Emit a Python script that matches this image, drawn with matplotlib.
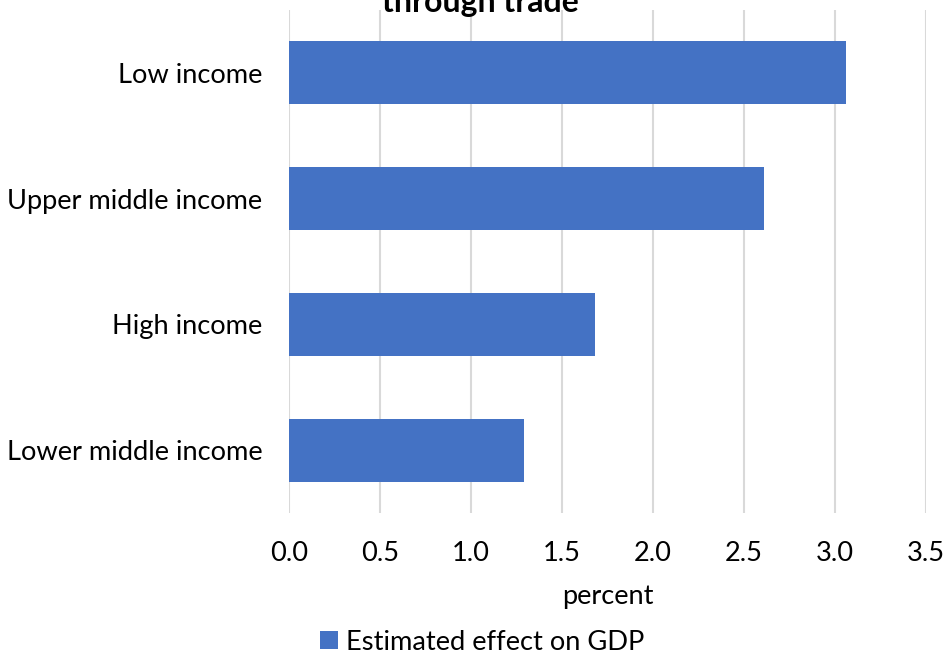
import matplotlib.pyplot as plt
from matplotlib.patches import Patch

plt.rcParams['font.family'] = ['Lato', 'DejaVu Sans']

categories = ['Low income', 'Upper middle income', 'High income', 'Lower middle income']
values = [3.06, 2.61, 1.68, 1.29]
xticks = [0.0, 0.5, 1.0, 1.5, 2.0, 2.5, 3.0, 3.5]
bar_color = '#4472C4'

fig = plt.figure(figsize=(9.45, 6.64), dpi=100)
ax = fig.add_axes([0.3058, 0.2274, 0.674, 0.7576])

y = list(range(len(categories)))[::-1]
ax.barh(y, values, height=0.5, color=bar_color, zorder=3)

ax.set_ylim(-0.5, len(categories) - 0.5)
ax.set_yticks(y)
ax.set_yticklabels(categories, fontsize=19.6)
ax.set_xlim(0, 3.5)
ax.set_xticks(xticks)
ax.set_xticklabels(['%.1f' % t for t in xticks], fontsize=19.6)
ax.tick_params(axis='both', length=0, colors='#000000')
ax.tick_params(axis='y', pad=19)
ax.tick_params(axis='x', pad=20)
ax.grid(axis='x', color='#D9D9D9', linewidth=1.5, zorder=0)
ax.grid(axis='y', visible=False)
for s in ax.spines.values():
    s.set_visible(False)

ax.set_xlabel('percent', fontsize=19.6, labelpad=13)

fig.text(0.508, 1 - 12 / 664, 'through trade', ha='center', va='baseline',
         fontsize=23, fontweight='bold')

fig.legend(handles=[Patch(facecolor=bar_color, label='Estimated effect on GDP')],
           loc='center', bbox_to_anchor=(0.51, 1 - 642 / 664), frameon=False,
           fontsize=19.6, handlelength=0.65, handleheight=0.65, handletextpad=0.3)

fig.savefig('out.png', dpi=100)
